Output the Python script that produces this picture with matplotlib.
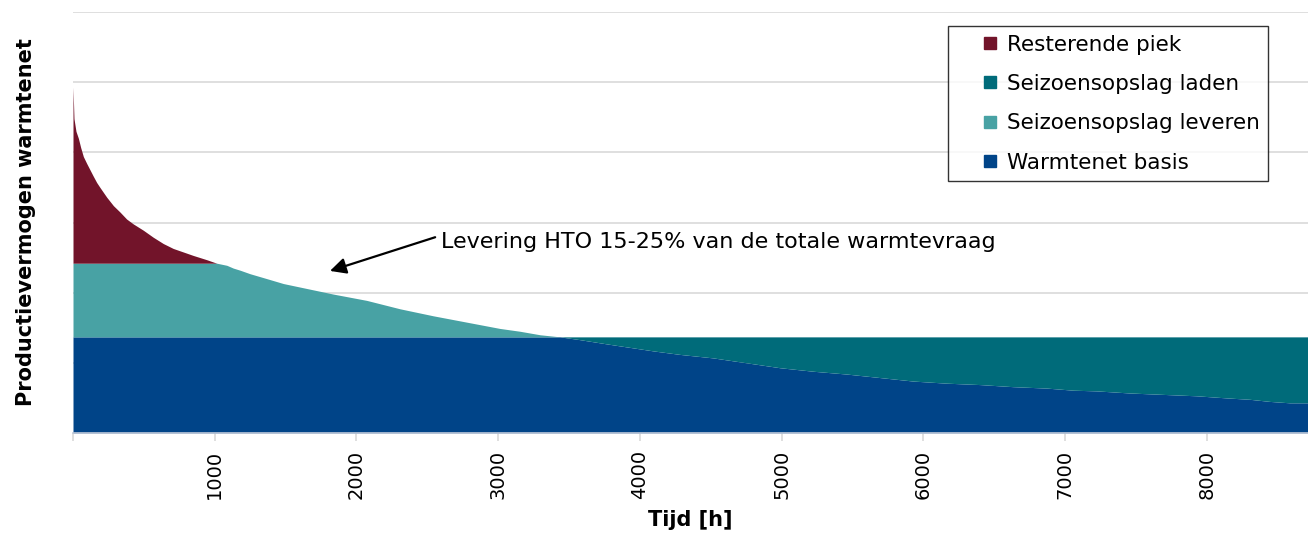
import numpy as np
import matplotlib
matplotlib.use("Agg")
import matplotlib.pyplot as plt
from matplotlib.lines import Line2D

# load duration curve (hours, demand in grid units)
hours = [0, 7, 21, 38, 54, 73, 97, 120, 143, 167, 190, 238, 285, 331, 378, 425,
         496, 566, 637, 707, 778, 849, 943, 1014, 1085, 1131, 1179, 1249, 1367,
         1484, 1601, 1836, 2072, 2307, 2542, 2777, 3012, 3153, 3295, 3436, 3577,
         3765, 3929, 4094, 4282, 4517, 4753, 4988, 5223, 5458, 5693, 5928, 6164,
         6399, 6634, 6869, 7057, 7222, 7457, 7692, 7927, 8139, 8303, 8444, 8585,
         8713]
demand = [4.93, 4.48, 4.30, 4.20, 4.07, 3.94, 3.84, 3.75, 3.66, 3.57, 3.50, 3.36,
          3.24, 3.15, 3.05, 2.98, 2.89, 2.79, 2.70, 2.63, 2.58, 2.53, 2.47, 2.42,
          2.39, 2.35, 2.32, 2.27, 2.20, 2.13, 2.08, 1.98, 1.89, 1.77, 1.67, 1.58,
          1.49, 1.45, 1.40, 1.37, 1.33, 1.27, 1.22, 1.17, 1.12, 1.07, 1.00, 0.93,
          0.88, 0.84, 0.79, 0.74, 0.71, 0.69, 0.66, 0.64, 0.61, 0.60, 0.57, 0.55,
          0.53, 0.50, 0.48, 0.45, 0.43, 0.43]

base_level = 1.37      # Warmtenet basis capacity
storage_level = 2.42   # basis + seizoensopslag leveren

series_names = ["Resterende piek", "Seizoensopslag laden",
                "Seizoensopslag leveren", "Warmtenet basis"]
series_colors = ["#72142A", "#006B7A", "#48A2A4", "#004488"]

x_ticks = [0, 1000, 2000, 3000, 4000, 5000, 6000, 7000, 8000]
x_ticklabels = ["", "1000", "2000", "3000", "4000", "5000", "6000", "7000", "8000"]

note_text = "Levering HTO 15-25% van de totale warmtevraag"


def main():
    x = np.array(hours, dtype=float)
    d = np.array(demand, dtype=float)
    base = np.full_like(d, base_level)
    stor = np.full_like(d, storage_level)

    fig = plt.figure(figsize=(13.08, 5.35), dpi=100)
    ax = fig.add_axes([73 / 1308, 1 - 433 / 535, 1235 / 1308, 421 / 535])

    c_piek, c_laden, c_lev, c_basis = series_colors
    ax.fill_between(x, 0, np.minimum(d, base), color=c_basis, lw=0, zorder=2)
    ax.fill_between(x, d, base, where=d <= base, interpolate=True,
                    color=c_laden, lw=0, zorder=2)
    ax.fill_between(x, base, np.minimum(d, stor), where=d >= base, interpolate=True,
                    color=c_lev, lw=0, zorder=2)
    ax.fill_between(x, stor, d, where=d >= stor, interpolate=True,
                    color=c_piek, lw=0, zorder=2)

    ax.set_xlim(0, 8713)
    ax.set_ylim(0, 6)
    ax.set_yticks(range(0, 7))
    ax.set_yticklabels([])
    ax.tick_params(axis="y", length=0)
    ax.grid(axis="y", color="#D9D9D9", lw=1.2, zorder=0)

    ax.set_xticks(x_ticks)
    ax.set_xticklabels(x_ticklabels, rotation=90, fontsize=14)
    ax.tick_params(axis="x", length=6, color="#D9D9D9", width=1.2, pad=6)

    for s in ("top", "right", "left"):
        ax.spines[s].set_visible(False)
    ax.spines["bottom"].set_color("#BFC9D9")
    ax.spines["bottom"].set_linewidth(1.2)

    ax.set_ylabel("Productievermogen warmtenet", fontsize=15, fontweight="bold")
    ax.yaxis.set_label_coords(-0.030, 0.5)
    ax.set_xlabel("Tijd [h]", fontsize=15, fontweight="bold")
    ax.xaxis.set_label_coords(0.4996, -0.183)

    handles = [Line2D([], [], ls="none", marker="s", markersize=9,
                      markerfacecolor=c, markeredgecolor=c) for c in series_colors]
    leg = ax.legend(handles, series_names, loc="upper right",
                    bbox_to_anchor=(1195 / 1235, 1 - 14 / 421), fontsize=15.5,
                    frameon=True, fancybox=False, edgecolor="black",
                    handlelength=3.1, handletextpad=-0.8,
                    labelspacing=0.9, borderpad=0.4, borderaxespad=0)
    leg.get_frame().set_linewidth(1.0)

    # arrow and text of the note
    ax.annotate("", xy=(1813, 2.31), xytext=(2555, 2.79),
                arrowprops=dict(arrowstyle="-|>", color="black", lw=1.6,
                                mutation_scale=24, shrinkA=0, shrinkB=0))
    ax.text(2596, 2.72, note_text, fontsize=16, va="center", ha="left")

    fig.savefig("out.png", dpi=100)
    plt.close(fig)


if __name__ == "__main__":
    main()
